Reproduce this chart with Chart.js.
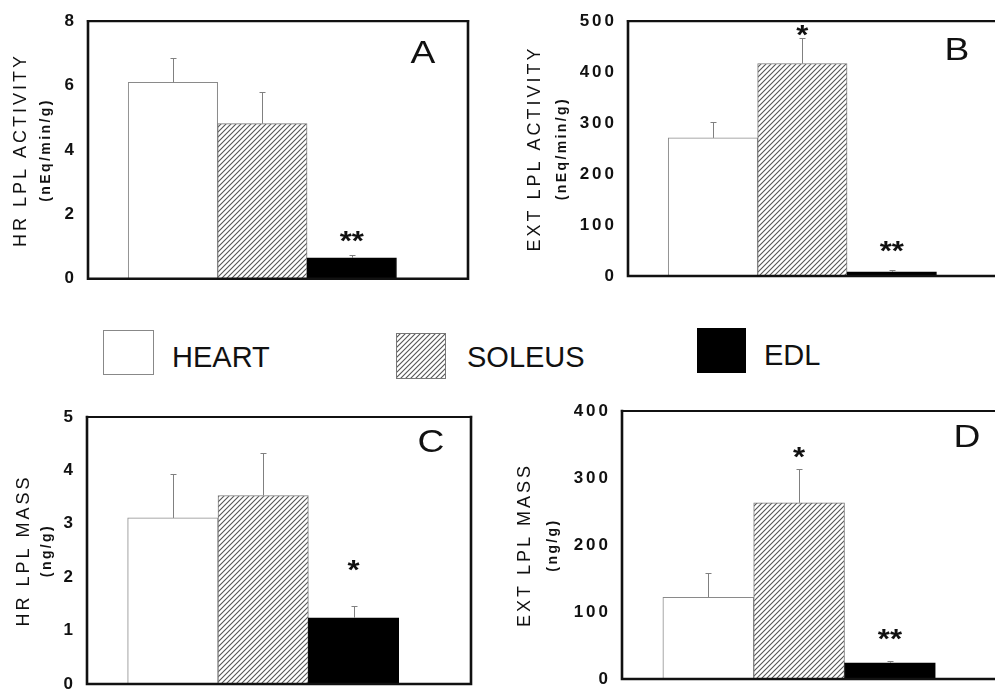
<!DOCTYPE html>
<html><head><meta charset="utf-8">
<script src="https://cdn.jsdelivr.net/npm/chart.js@4/dist/chart.umd.min.js"></script>
<style>
html,body{margin:0;padding:0;background:#fff;overflow:hidden;width:995px;height:692px;}
#wrap{position:relative;width:995px;height:692px;overflow:hidden;background:#fff;}
canvas.panel{position:absolute;}
.leg{position:absolute;font-family:"Liberation Sans",Arial,sans-serif;font-size:29px;color:#111;line-height:1;white-space:nowrap;}
.box{position:absolute;box-sizing:border-box;}
</style></head><body><div id="wrap">
<canvas id="cA" class="panel" width="490" height="300" style="left:0;top:0"></canvas>
<canvas id="cB" class="panel" width="540" height="300" style="left:490px;top:0"></canvas>
<canvas id="cC" class="panel" width="490" height="330" style="left:0;top:380px"></canvas>
<canvas id="cD" class="panel" width="540" height="330" style="left:490px;top:380px"></canvas>

<div class="box" style="left:103px;top:330px;width:51px;height:45px;border:1px solid #888;background:#fff"></div>
<div class="leg" style="left:172px;top:343px">HEART</div>
<canvas id="legHatch" class="box" width="50" height="46" style="left:396px;top:333px"></canvas>
<div class="leg" style="left:467px;top:343px">SOLEUS</div>
<div class="box" style="left:697px;top:328px;width:49px;height:45px;background:#000"></div>
<div class="leg" style="left:764px;top:341px">EDL</div>
</div>
<script>
// ---------- DATA ----------
const categories = ['HEART', 'SOLEUS', 'EDL'];
const hrActivity = [6.1, 4.82, 0.65];
const hrActivityErr = [0.75, 0.98, 0.1];
const extActivity = [271, 417, 8];
const extActivityErr = [31, 50, 3];
const hrMass = [3.11, 3.53, 1.24];
const hrMassErr = [0.83, 0.79, 0.22];
const extMass = [122, 263, 24];
const extMassErr = [36, 50, 3];
const sigA = ['', '', '**'];
const sigB = ['', '*', '**'];
const sigC = ['', '', '*'];
const sigD = ['', '*', '**'];
const ticksA = [0, 2, 4, 6, 8];
const ticksB = [0, 100, 200, 300, 400, 500];
const ticksC = [0, 1, 2, 3, 4, 5];
const ticksD = [0, 100, 200, 300, 400];
const titlesA = ['HR LPL ACTIVITY', '(nEq/min/g)'];
const titlesB = ['EXT LPL ACTIVITY', '(nEq/min/g)'];
const titlesC = ['HR LPL MASS', '(ng/g)'];
const titlesD = ['EXT LPL MASS', '(ng/g)'];

const FONT = '"Liberation Sans", Arial, Helvetica, sans-serif';
const INK = '#111';

function makeHatchTile() {
  const c = document.createElement('canvas');
  c.width = 5; c.height = 5;
  const g = c.getContext('2d');
  g.fillStyle = '#fff'; g.fillRect(0, 0, 5, 5);
  g.strokeStyle = '#555'; g.lineWidth = 1.1;
  g.beginPath();
  g.moveTo(-1, 6); g.lineTo(6, -1);
  g.moveTo(-1, 1); g.lineTo(1, -1);
  g.moveTo(4, 6); g.lineTo(6, 4);
  g.stroke();
  return c;
}
const hatchTile = makeHatchTile();

// legend hatch swatch
(function () {
  const c = document.getElementById('legHatch');
  const g = c.getContext('2d');
  g.fillStyle = g.createPattern(hatchTile, 'repeat');
  g.fillRect(0, 0, c.width, c.height);
  g.strokeStyle = '#777'; g.lineWidth = 1;
  g.strokeRect(0.5, 0.5, c.width - 1, c.height - 1);
})();

function stretchText(ctx, text, x, y, font, sx, align, baseline) {
  ctx.save();
  ctx.translate(x, y);
  ctx.scale(sx, 1);
  ctx.letterSpacing = '0px';
  ctx.font = font;
  ctx.textAlign = align;
  ctx.textBaseline = baseline;
  ctx.fillStyle = INK;
  ctx.fillText(text, 0, 0);
  ctx.restore();
}

function makePanel(id, values, errors, sig, yTicks, titles, st) {
  const canvas = document.getElementById(id);
  const ctx0 = canvas.getContext('2d');
  const hatch = ctx0.createPattern(hatchTile, 'repeat');

  const panelPlugin = {
    id: 'panel_' + id,
    beforeDraw(chart) { chart.ctx.letterSpacing = '3px'; },
    afterDatasetsDraw(chart) {
      const ctx = chart.ctx, ys = chart.scales.y;
      const meta = chart.getDatasetMeta(0);
      ctx.save();
      ctx.letterSpacing = '0px';
      meta.data.forEach((bar, i) => {
        const v = values[i], e = errors[i];
        const y0 = ys.getPixelForValue(v);
        const y1 = Math.round(ys.getPixelForValue(v + e)) + 0.5;
        const x = Math.round(bar.x) + 0.5;
        ctx.strokeStyle = '#808080'; ctx.lineWidth = 1;
        ctx.beginPath();
        ctx.moveTo(x, y0); ctx.lineTo(x, y1);
        ctx.moveTo(x - 3, y1); ctx.lineTo(x + 3, y1);
        ctx.stroke();
        if (sig[i]) {
          const cy = y1 - st.starOff[i];
          stretchText(ctx, sig[i], bar.x, cy + 15, 'bold 27px ' + FONT, 1.15, 'center', 'alphabetic');
        }
      });
      ctx.restore();
    },
    afterDraw(chart) {
      const ctx = chart.ctx, a = chart.chartArea;
      ctx.save();
      ctx.letterSpacing = '0px';
      ctx.strokeStyle = INK;
      ctx.lineCap = 'square';
      // frame
      ctx.lineWidth = 2.6;
      ctx.beginPath();
      ctx.moveTo(a.left, a.bottom); ctx.lineTo(a.left, a.top);
      ctx.moveTo(a.left, a.bottom); ctx.lineTo(a.right, a.bottom);
      ctx.moveTo(a.right, a.bottom); ctx.lineTo(a.right, a.top);
      ctx.stroke();
      ctx.lineWidth = 2.2;
      ctx.beginPath();
      ctx.moveTo(a.left, a.top); ctx.lineTo(a.right, a.top);
      ctx.stroke();
      // panel letter
      stretchText(ctx, st.letter, a.right - st.letterDx, a.top + st.letterDy, '31px ' + FONT, 1.2, 'center', 'middle');
      // sub title (units)
      ctx.translate(st.subX, (a.top + a.bottom) / 2);
      ctx.rotate(-Math.PI / 2);
      ctx.letterSpacing = '2.4px';
      ctx.font = 'bold 14px ' + FONT;
      ctx.fillStyle = INK;
      ctx.textAlign = 'center';
      ctx.textBaseline = 'middle';
      ctx.fillText(titles[1], 0, 0);
      ctx.restore();
    }
  };

  return new Chart(canvas, {
    type: 'bar',
    data: {
      datasets: [{
        label: 'LPL',
        data: values.map((v, i) => ({ x: i + 1, y: v })),
        backgroundColor: ['#ffffff', hatch, '#000000'],
        borderColor: ['#8a8a8a', '#7a7a7a', '#000000'],
        borderWidth: 1,
        barPercentage: 1,
        categoryPercentage: 1
      }]
    },
    options: {
      responsive: false,
      devicePixelRatio: 1,
      animation: false,
      layout: { padding: st.padding },
      plugins: { legend: { display: false }, tooltip: { enabled: false } },
      scales: {
        x: {
          type: 'linear',
          display: false,
          offset: false,
          bounds: 'data',
          min: 0.05,
          max: 4.3,
          afterBuildTicks: (s) => { s.ticks = categories.map((c, i) => ({ value: i + 1 })); }
        },
        y: {
          min: yTicks[0],
          max: yTicks[yTicks.length - 1],
          afterBuildTicks: (s) => { s.ticks = yTicks.map(v => ({ value: v })); },
          afterFit: (s) => { s.width = st.axisW; },
          grid: { display: false, drawTicks: false },
          border: { display: false },
          ticks: {
            color: INK,
            padding: 11,
            font: { family: FONT, size: 17, weight: 'bold' }
          },
          title: {
            display: true,
            text: titles[0],
            color: INK,
            font: { family: FONT, size: 18 },
            padding: { top: st.titlePad, bottom: 0 }
          }
        }
      }
    },
    plugins: [panelPlugin]
  });
}

makePanel('cA', hrActivity, hrActivityErr, sigA, ticksA, titlesA, {
  padding: { top: 19, bottom: 17, right: 22, left: 0 }, axisW: 88, titlePad: 10, subX: 46,
  letter: 'A', letterDx: 45, letterDy: 33, starOff: [0, 0, 21]
});
makePanel('cB', extActivity, extActivityErr, sigB, ticksB, titlesB, {
  padding: { top: 15, bottom: 24, right: 22, left: 0 }, axisW: 138, titlePad: 34, subX: 72,
  letter: 'B', letterDx: 51, letterDy: 30, starOff: [0, 10, 26]
});
makePanel('cC', hrMass, hrMassErr, sigC, ticksC, titlesC, {
  padding: { top: 37, bottom: 26, right: 19, left: 0 }, axisW: 87, titlePad: 13, subX: 47,
  letter: 'C', letterDx: 40, letterDy: 26, starOff: [0, 0, 43]
});
makePanel('cD', extMass, extMassErr, sigD, ticksD, titlesD, {
  padding: { top: 31, bottom: 31, right: 22, left: 0 }, axisW: 132, titlePad: 24, subX: 63,
  letter: 'D', letterDx: 41, letterDy: 27, starOff: [0, 19, 29]
});
</script>
</body></html>
